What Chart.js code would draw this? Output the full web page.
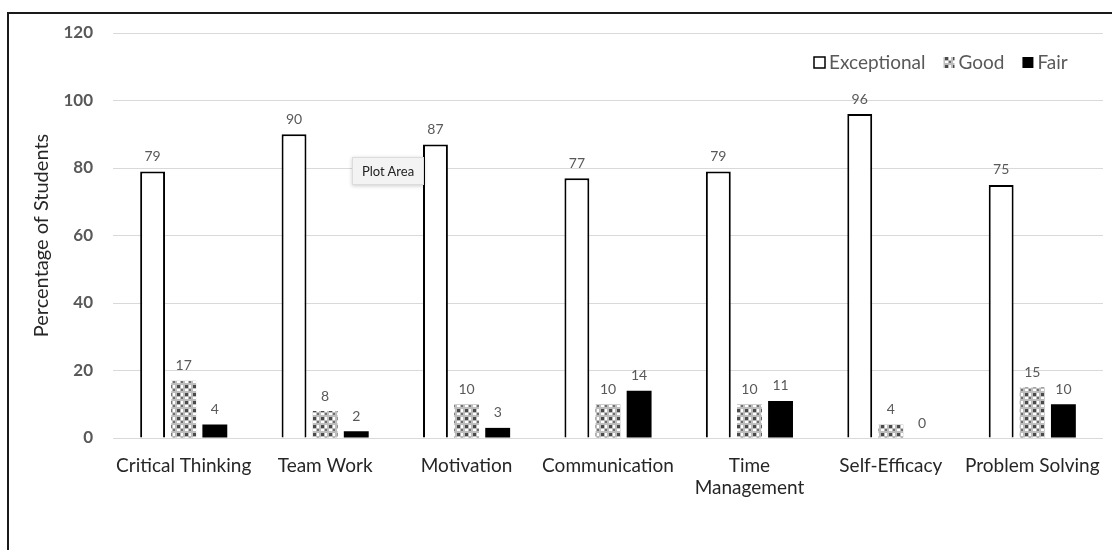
<!DOCTYPE html>
<html lang="en">
<head>
  <meta charset="utf-8">
  <title>Skills rating</title>
  <script src="https://cdn.jsdelivr.net/npm/chart.js"></script>
  <style>
    body { margin: 0; background: #fff; }
    #wrap { position: relative; width: 1112px; height: 550px; overflow: hidden; }
    #frame {
      position: absolute; left: 7px; top: 12px; width: 1200px; height: 600px;
      border-left: 2px solid #1a1a1a; border-top: 2px solid #1a1a1a;
    }
    #tip {
      position: absolute; left: 352px; top: 157px; width: 70px; height: 26px;
      background: #f3f3f3; border: 1px solid #dcdcdc; box-shadow: 0 1px 4px rgba(0,0,0,0.2);
      font: 13px Lato, sans-serif; color: #222; line-height: 26px; text-align: center;
    }
    canvas { position: absolute; left: 0; top: 0; }
  </style>
</head>
<body>
<div id="wrap">
  <div id="frame"></div>
  <canvas id="skillChart" width="1112" height="550"></canvas>
  <div id="tip">Plot Area</div>
</div>

<script>
  const categories = ['Critical Thinking', 'Team Work', 'Motivation', 'Communication',
    ['Time', 'Management'], 'Self-Efficacy', 'Problem Solving'];
  const exceptional = [79, 90, 87, 77, 79, 96, 75];
  const good = [17, 8, 10, 10, 10, 4, 15];
  const fair = [4, 2, 3, 14, 11, 0, 10];
  const seriesNames = ['Exceptional', 'Good', 'Fair'];

  // checkered fill for the "Good" bars
  function checkerPattern() {
    const c = document.createElement('canvas');
    c.width = 8; c.height = 8;
    const g = c.getContext('2d');
    g.fillStyle = '#bdbdbd';
    g.fillRect(0, 0, 8, 8);
    g.fillStyle = '#4a4a4a';
    g.fillRect(1, 1, 3, 3);
    g.fillStyle = '#ffffff';
    g.fillRect(5, 1, 2, 3);
    g.fillRect(1, 5, 3, 2);
    g.fillStyle = '#707070';
    g.fillRect(5, 5, 2, 2);
    return g.createPattern(c, 'repeat');
  }

  const ctx = document.getElementById('skillChart').getContext('2d');
  const goodFill = checkerPattern();

  const valueLabels = {
    id: 'valueLabels',
    afterDatasetsDraw(chart) {
      const c = chart.ctx;
      c.save();
      c.font = '14px Lato, sans-serif';
      c.fillStyle = '#595959';
      c.textAlign = 'center';
      c.textBaseline = 'bottom';
      chart.data.datasets.forEach((ds, i) => {
        chart.getDatasetMeta(i).data.forEach((bar, j) => {
          c.fillText(ds.data[j], bar.x, bar.y - 8);
        });
      });
      c.restore();
    }
  };

  const cornerLegend = {
    id: 'cornerLegend',
    afterDraw(chart) {
      const c = chart.ctx;
      const fills = ['#ffffff', goodFill, '#000000'];
      let x = 814;
      const y = 63;
      c.save();
      c.font = '19px Lato, sans-serif';
      c.textBaseline = 'middle';
      seriesNames.forEach((name, i) => {
        c.fillStyle = fills[i];
        c.fillRect(x, y - 6, 11, 11);
        if (i === 0) {
          c.strokeStyle = '#000';
          c.lineWidth = 1.5;
          c.strokeRect(x, y - 6, 11, 11);
        }
        c.fillStyle = '#595959';
        c.fillText(name, x + 15, y);
        x += 15 + c.measureText(name).width + 18;
      });
      c.restore();
    }
  };

  new Chart(ctx, {
    type: 'bar',
    data: {
      labels: categories,
      datasets: [
        { label: seriesNames[0], data: exceptional, backgroundColor: '#ffffff', borderColor: '#000000', borderWidth: 2 },
        { label: seriesNames[1], data: good, backgroundColor: goodFill, borderWidth: 0 },
        { label: seriesNames[2], data: fair, backgroundColor: '#000000', borderWidth: 0 }
      ]
    },
    options: {
      responsive: false,
      animation: false,
      categoryPercentage: 0.66,
      barPercentage: 0.8,
      layout: { padding: { left: 30, top: 33, right: 9, bottom: 0 } },
      plugins: {
        legend: { display: false },
        tooltip: { enabled: false }
      },
      scales: {
        x: {
          grid: { display: false },
          border: { display: false },
          ticks: { color: '#262626', font: { family: 'Lato', size: 19 }, padding: 8, maxRotation: 0, autoSkip: false },
          afterFit(scale) { scale.height = 112; }
        },
        y: {
          min: 0, max: 120,
          ticks: { stepSize: 20, color: '#595959', font: { family: 'Lato', size: 17, weight: 'bold' }, padding: 20 },
          grid: { color: '#d9d9d9', drawTicks: false },
          border: { display: false },
          title: { display: true, text: 'Percentage of Students', color: '#262626', font: { family: 'Lato', size: 20 }, padding: 0 },
          afterFit(scale) { scale.width = 83; }
        }
      }
    },
    plugins: [valueLabels, cornerLegend]
  });
</script>
</body>
</html>
